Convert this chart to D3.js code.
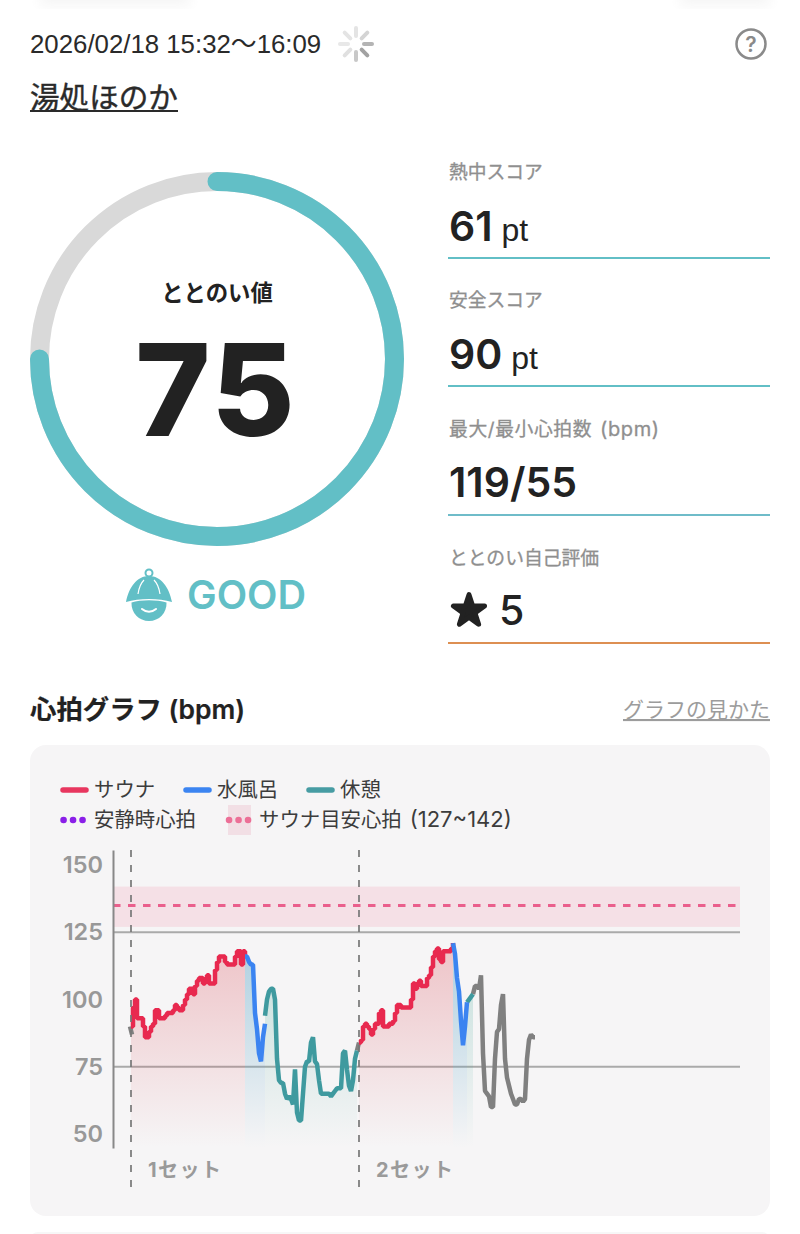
<!DOCTYPE html>
<html lang="ja">
<head>
<meta charset="utf-8">
<script src="https://cdn.jsdelivr.net/npm/d3@7"></script>
<style>
  html, body { margin: 0; padding: 0; background: #fff; }
  svg { display: block; }
  text { font-family: Inter, "Noto Sans CJK JP", sans-serif; }
</style>
</head>
<body>
<div id="page"></div>
<script>
// header + score values
var dateText = "2026/02/18 15:32～16:09";
var placeName = "湯処ほのか";
var totalScore = 75;
var scoreLabels = ["熱中スコア", "安全スコア", "最大/最小心拍数 (bpm)", "ととのい自己評価"];
var scoreValues = ["61", "90", "119/55", "5"];
var scoreUnits = ["pt", "pt", "", ""];

// heart rate samples (bpm), one value per sample, each series has its start sample
var sauna1Start = 0;
var sauna1 = [90,97,100,93,93,93,90,86,86,88,90,91,96,96,93,93,93,94,95,95,95,96,98,97,96,96,98,100,102,104,104,102,105,107,108,108,106,108,109,106,106,106,111,114,116,116,116,114,113,113,113,113,116,118,118,113,118,116];
var cold1Start = 57;
var cold1 = [116,116,114,113,113,95,89,80,77,86,91];
var rest1Start = 67;
var rest1 = [94,100,103,104,104,100,78,70,69,69,65,63,64,63,61,74,58,55,55,65,75,77,77,84,86,77,76,70,65,65,65,65,65,64,65,66,67,67,67,80,81,74,68,66,70,78,81];
var sauna2Start = 114;
var sauna2 = [84,85,90,91,90,89,87,89,91,91,95,96,90,90,90,91,91,92,95,98,98,97,97,97,97,97,100,106,104,106,107,105,105,105,108,109,112,116,118,119,115,114,118,118,118,118,119,121];
var cold2Start = 161;
var cold2 = [121,117,108,103,92,83,90,99];
var rest2Start = 168;
var rest2 = [99,100,101,102];
var other1Start = -0.5;
var other1 = [90,87];
var other2Start = 113;
var other2 = [81,84];
var other3Start = 171;
var other3 = [102,105,105,104,109,80,66,65,64,60,60,78,88,89,98,102,78,71,68,65,63,61,61,63,63,62,63,78,85,87,86,86];

var yTicks = [50, 75, 100, 125, 150];
var gridValues = [75, 125];
var targetRange = [127, 142];
var targetLine = 135;
var setStarts = [0, 114];
var setLabels = ["1セット", "2セット"];

var teal = "#62bfc6";
var red = "#e8294f";
var blue = "#3b84f1";
var restColor = "#3f9a9f";
var grey = "#808080";

var svg = d3.select("#page").append("svg")
    .attr("width", 800)
    .attr("height", 1234)
    .attr("viewBox", "0 0 800 1234");

var defs = svg.append("defs");
defs.append("filter").attr("id", "soft").append("feGaussianBlur").attr("stdDeviation", 6);

// faint edges of the neighbouring cards
svg.append("rect").attr("x", 40).attr("y", -16).attr("width", 150).attr("height", 22).attr("fill", "#f6f6f6").attr("filter", "url(#soft)");
svg.append("rect").attr("x", 680).attr("y", -16).attr("width", 90).attr("height", 22).attr("fill", "#f6f6f6").attr("filter", "url(#soft)");
svg.append("rect").attr("x", 30).attr("y", 1232).attr("width", 740).attr("height", 20).attr("rx", 8).attr("fill", "#f7f7f7");

// ---------- header ----------
svg.append("text").attr("x", 30).attr("y", 53).attr("font-size", 25.8).attr("fill", "#2a2a2a")
    .style("font-family", '"Liberation Sans", "Noto Sans CJK JP", sans-serif').text(dateText);

// loading spinner
var spokeColors = ["#e4e4e4", "#d4d4d4", "#b4b4b4", "#a2a2a2", "#c8c8c8", "#e0e0e0", "#e8e8e8", "#e4e4e4"];
svg.append("g").attr("transform", "translate(356,44)")
    .selectAll("line").data(spokeColors).join("line")
    .attr("y1", -8).attr("y2", -16)
    .attr("transform", (d, i) => `rotate(${i * 45})`)
    .attr("stroke", d => d)
    .attr("stroke-width", 4)
    .attr("stroke-linecap", "round");

// help icon
svg.append("circle").attr("cx", 751).attr("cy", 44).attr("r", 14.5).attr("fill", "none").attr("stroke", "#8a8a8a").attr("stroke-width", 2.5);
svg.append("text").attr("x", 751).attr("y", 52).attr("text-anchor", "middle").attr("font-size", 21).attr("font-weight", 600).attr("fill", "#8a8a8a").text("?");

svg.append("text").attr("x", 30).attr("y", 108).attr("font-size", 29.6).attr("fill", "#2a2a2a")
    .attr("stroke", "#2a2a2a").attr("stroke-width", 0.4).text(placeName);
svg.append("line").attr("x1", 30).attr("x2", 178).attr("y1", 111).attr("y2", 111).attr("stroke", "#2a2a2a").attr("stroke-width", 2);

// ---------- gauge ----------
var gaugeRadius = 177.5;
var gaugeAngle = d3.scaleLinear().domain([0, 100]).range([-Math.PI / 2, 1.5 * Math.PI]);
var gauge = svg.append("g").attr("transform", "translate(217,359)");
var gaugePath = d3.path();
gaugePath.arc(0, 0, gaugeRadius, gaugeAngle(0), gaugeAngle(totalScore));

gauge.append("circle").attr("r", gaugeRadius).attr("fill", "none").attr("stroke", "#d9d9d9").attr("stroke-width", 19);
gauge.append("path")
    .attr("d", gaugePath.toString())
    .attr("fill", "none")
    .attr("stroke", teal)
    .attr("stroke-width", 19)
    .attr("stroke-linecap", "round");
gauge.append("text").attr("y", -58).attr("text-anchor", "middle").attr("font-size", 22.4).attr("font-weight", 700).attr("fill", "#222").text("ととのい値");
gauge.append("text").attr("x", -1).attr("y", 77).attr("text-anchor", "middle").attr("font-size", 128).attr("font-weight", 800).attr("letter-spacing", 2).attr("fill", "#222").text(totalScore);

// mascot with the bell hat
var mascot = svg.append("g").attr("transform", "translate(149,595)");
mascot.append("circle").attr("cy", -22).attr("r", 3.5).attr("fill", "none").attr("stroke", teal).attr("stroke-width", 2);
mascot.append("path").attr("d", "M-23,7 C-20,-8 -12,-19 0,-19 C12,-19 20,-8 23,7 C10,3 -10,3 -23,7Z").attr("fill", teal);
mascot.append("path").attr("d", "M-17.5,7.5 C-8,4.5 8,4.5 17.5,7.5 C18,18 10,26 0,26 C-10,26 -18,18 -17.5,7.5Z").attr("fill", teal);
mascot.append("path").attr("d", "M-7,14 C-3,17.5 3,17.5 7,14").attr("fill", "none").attr("stroke", "#fff").attr("stroke-width", 2).attr("stroke-linecap", "round");
mascot.append("path").attr("d", "M-11,-1 C-10,-8 -8,-12 -5,-15 M11,-1 C10,-8 8,-12 5,-15").attr("fill", "none").attr("stroke", "#fff").attr("stroke-width", 1.2);
svg.append("text").attr("x", 187).attr("y", 609).attr("font-size", 39.6).attr("font-weight", 600).attr("fill", teal).text("GOOD");

// ---------- score column ----------
var rowLabelY = [179, 307, 436, 565];
var rowValueY = [241, 369, 497, 625];
var rowLineY = [258, 386, 515, 643];
var lineColors = [teal, teal, "#6fbcc9", "#dd8f52"];

// the latin part after a space is set a bit larger, like the original
function addLatinPart(textSel, label, size, gap) {
    var parts = label.split(" ");
    textSel.text(parts[0]);
    if (parts[1]) {
        textSel.append("tspan").attr("dx", gap).attr("font-size", size).text(parts[1]);
    }
}

scoreLabels.forEach((label, i) => {
    var labelText = svg.append("text").attr("x", 449).attr("y", rowLabelY[i]).attr("font-size", 18.8).attr("fill", "#8f8f8f")
        .attr("stroke", "#8f8f8f").attr("stroke-width", 0.3);
    if (i == 2) labelText.attr("letter-spacing", 0.6);
    addLatinPart(labelText, label, 20, 8);

    var valueText = svg.append("text").attr("x", i == 3 ? 499 : 449).attr("y", rowValueY[i]).attr("font-size", 41).attr("fill", "#222")
        .attr("font-weight", i == 3 ? 500 : 600).text(scoreValues[i]);
    if (scoreUnits[i]) {
        valueText.append("tspan").attr("dx", 9).attr("font-size", 32).attr("font-weight", 400)
            .style("font-family", '"Liberation Sans", sans-serif').text(scoreUnits[i]);
    }
    svg.append("line").attr("x1", 448).attr("x2", 770).attr("y1", rowLineY[i]).attr("y2", rowLineY[i]).attr("stroke", lineColors[i]).attr("stroke-width", 2);
});

svg.append("path").attr("transform", "translate(469,611)")
    .attr("d", d3.symbol().type(d3.symbolStar).size(300)())
    .attr("fill", "#222").attr("stroke", "#222").attr("stroke-width", 5).attr("stroke-linejoin", "round");

// ---------- heart rate chart ----------
svg.append("text").attr("x", 30).attr("y", 719).attr("font-size", 26.4).attr("font-weight", 600).attr("fill", "#222")
    .attr("stroke", "#222").attr("stroke-width", 0.2).text("心拍グラフ (bpm)");
svg.append("text").attr("x", 770).attr("y", 717).attr("text-anchor", "end").attr("font-size", 21).attr("fill", "#9c9c9c").attr("text-decoration", "underline").text("グラフの見かた");

svg.append("rect").attr("x", 30).attr("y", 745).attr("width", 740).attr("height", 471).attr("rx", 16).attr("fill", "#f6f5f6");

// legend
var legendItems = [
    { label: "サウナ", color: "#e8365f", x: 63, y: 790 },
    { label: "水風呂", color: "#3b84f1", x: 186, y: 790 },
    { label: "休憩", color: "#479ca3", x: 309, y: 790 }
];
legendItems.forEach(item => {
    svg.append("line").attr("x1", item.x).attr("x2", item.x + 23).attr("y1", item.y).attr("y2", item.y)
        .attr("stroke", item.color).attr("stroke-width", 5.5).attr("stroke-linecap", "round");
    svg.append("text").attr("x", item.x + 31).attr("y", item.y + 7).attr("font-size", 20.4).attr("fill", "#3c3c3c").text(item.label);
});
svg.append("rect").attr("x", 228).attr("y", 805).attr("width", 23).attr("height", 30).attr("fill", "#f2dfe5");
var dotItems = [
    { label: "安静時心拍", color: "#8a1fe8", x: 63.5, textX: 94 },
    { label: "サウナ目安心拍 (127~142)", color: "#ec6f97", x: 229, textX: 259 }
];
dotItems.forEach(item => {
    svg.append("line").attr("x1", item.x).attr("x2", item.x + 20).attr("y1", 820).attr("y2", 820)
        .attr("stroke", item.color).attr("stroke-width", 6.5).attr("stroke-linecap", "round").attr("stroke-dasharray", "0.1 9.4");
    var dotText = svg.append("text").attr("x", item.textX).attr("y", 827).attr("font-size", 20.4).attr("fill", "#3c3c3c");
    addLatinPart(dotText, item.label, 22, 8);
});

// scales
var x = d3.scaleLinear().domain([0, 202]).range([131, 535]);
var y = d3.scaleLinear().domain([44.8, 155.6]).range([1148, 850]);
var plotLeft = 113;
var plotRight = 740;

// band of the sauna target
svg.append("rect").attr("x", plotLeft).attr("width", plotRight - plotLeft)
    .attr("y", y(targetRange[1])).attr("height", y(targetRange[0]) - y(targetRange[1]))
    .attr("fill", "#f5e0e6");

svg.selectAll(".grid").data(gridValues).join("line")
    .attr("class", "grid")
    .attr("x1", plotLeft).attr("x2", plotRight)
    .attr("y1", d => y(d)).attr("y2", d => y(d))
    .attr("stroke", "#aaaaaa").attr("stroke-width", 2);

svg.append("line").attr("x1", plotLeft).attr("x2", plotRight).attr("y1", y(targetLine)).attr("y2", y(targetLine))
    .attr("stroke", "#ea5f8c").attr("stroke-width", 3).attr("stroke-dasharray", "7.5 7.5");

// y axis
var yAxis = svg.append("g").attr("transform", `translate(${plotLeft},0)`)
    .call(d3.axisLeft(y).tickValues(yTicks).tickSize(0).tickPadding(10));
yAxis.select(".domain").attr("stroke", "#888").attr("stroke-width", 2);
yAxis.selectAll("text")
    .attr("font-size", 23.5).attr("font-weight", 600).attr("fill", "#989898")
    .style("font-family", 'Inter, sans-serif');

// gradients for the areas under the line
function addGradient(id, color, topOpacity) {
    var grad = defs.append("linearGradient").attr("id", id)
        .attr("gradientUnits", "userSpaceOnUse")
        .attr("x1", 0).attr("x2", 0).attr("y1", y(118)).attr("y2", y(45));
    grad.append("stop").attr("offset", 0).attr("stop-color", color).attr("stop-opacity", topOpacity);
    grad.append("stop").attr("offset", 1).attr("stop-color", color).attr("stop-opacity", 0);
}
addGradient("redFade", "#d9434f", 0.27);
addGradient("blueFade", "#4f9fc4", 0.42);
addGradient("tealFade", "#45a898", 0.28);

var areaGen = d3.area().x(d => x(d.i)).y0(y(45)).y1(d => y(d.v));
var lineGen = d3.line().x(d => x(d.i)).y(d => y(d.v));
// sauna line moves in small steps in the original
var stepGen = d3.line().x(d => x(d.i)).y(d => y(d.v)).curve(d3.curveStepAfter);

// turn a start sample and its values into points
function toPoints(start, values) {
    return values.map((v, k) => ({ i: start + k, v: v }));
}

var areaList = [
    [sauna1Start, sauna1, "redFade"], [cold1Start, cold1, "blueFade"], [rest1Start, rest1, "tealFade"],
    [sauna2Start, sauna2, "redFade"], [cold2Start, cold2, "blueFade"], [rest2Start, rest2, "tealFade"]
];
areaList.forEach(a => {
    svg.append("path").attr("d", areaGen(toPoints(a[0], a[1]))).attr("fill", `url(#${a[2]})`);
});

var lineList = [
    [other1Start, other1, grey, lineGen], [other2Start, other2, grey, lineGen], [other3Start, other3, grey, lineGen],
    [rest1Start, rest1, restColor, lineGen], [rest2Start, rest2, restColor, lineGen],
    [sauna1Start, sauna1, red, stepGen], [sauna2Start, sauna2, red, stepGen],
    [cold1Start, cold1, blue, lineGen], [cold2Start, cold2, blue, lineGen]
];
lineList.forEach(l => {
    svg.append("path").attr("d", l[3](toPoints(l[0], l[1])))
        .attr("fill", "none").attr("stroke", l[2]).attr("stroke-width", 4.5)
        .attr("stroke-linejoin", "bevel").attr("stroke-linecap", "butt");
});

// set markers
svg.selectAll(".setLine").data(setStarts).join("line")
    .attr("class", "setLine")
    .attr("x1", d => x(d)).attr("x2", d => x(d))
    .attr("y1", 850).attr("y2", 1187)
    .attr("stroke", "#777").attr("stroke-width", 1.7).attr("stroke-dasharray", "7 8");
svg.selectAll(".setLabel").data(setStarts).join("text")
    .attr("class", "setLabel")
    .attr("x", d => x(d) + 17).attr("y", 1177)
    .attr("font-size", 20).attr("font-weight", 700).attr("letter-spacing", 1.5).attr("fill", "#9a9a9a")
    .text((d, i) => setLabels[i]);
</script>
</body>
</html>
